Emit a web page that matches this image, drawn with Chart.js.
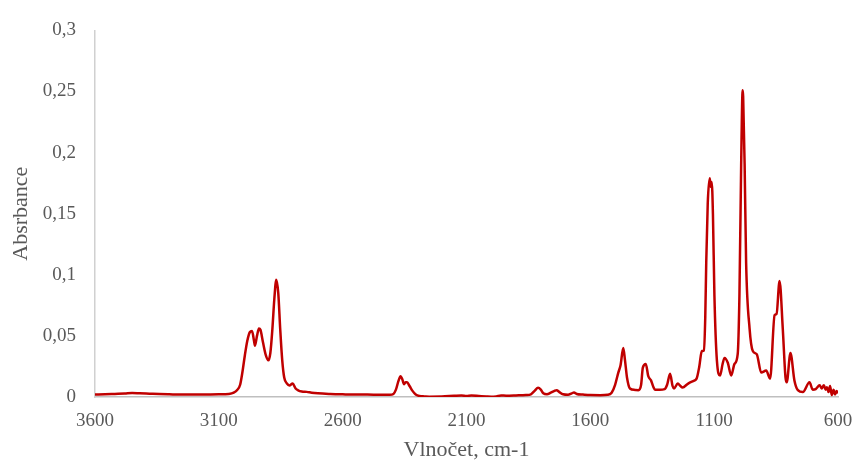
<!DOCTYPE html>
<html>
<head>
<meta charset="utf-8">
<script src="https://cdn.jsdelivr.net/npm/chart.js@4"></script>
<style>
  html, body { margin: 0; padding: 0; background: #ffffff; }
  #wrap { width: 853px; height: 461px; position: relative; }
</style>
</head>
<body>
<div id="wrap"><canvas id="c"></canvas></div>
<script>
const wavenumbers = [
  3600, 3560, 3520, 3480, 3450, 3420, 3380, 3340, 3300, 3250, 3200, 3150, 3100, 3060, 3040, 3025, 3014, 3005, 2995, 2985,
  2975, 2966, 2958, 2954, 2946, 2938, 2932, 2922, 2910, 2900, 2892, 2884, 2876, 2868, 2860, 2852, 2844, 2836, 2825, 2815,
  2802, 2790, 2780, 2765, 2745, 2725, 2700, 2650, 2600, 2550, 2500, 2450, 2410, 2395, 2385, 2375, 2366, 2360, 2352, 2346,
  2340, 2330, 2318, 2305, 2290, 2270, 2250, 2200, 2150, 2120, 2100, 2080, 2050, 2020, 2000, 1980, 1960, 1940, 1900, 1860,
  1840, 1825, 1811, 1800, 1790, 1775, 1760, 1745, 1736, 1725, 1710, 1690, 1675, 1666, 1655, 1630, 1600, 1560, 1530, 1514,
  1500, 1487, 1478, 1467, 1460, 1452, 1440, 1420, 1406, 1395, 1388, 1376, 1366, 1355, 1345, 1339, 1320, 1300, 1290, 1278,
  1268, 1262, 1247, 1236, 1228, 1205, 1185, 1171, 1160, 1150, 1141, 1136, 1132, 1126, 1118, 1114, 1110, 1105, 1099, 1089, 1076,
  1066, 1058, 1045, 1031, 1018, 1005, 998, 991, 985, 983, 977, 971, 957, 944, 928, 910, 890, 874, 856, 848, 836,
  823, 812, 807, 792, 776, 762, 742, 715, 702, 690, 674, 666, 657, 650, 645, 638, 632, 625, 618, 612,
  606, 600
];
const absorbance = [
  0.0020, 0.0022, 0.0025, 0.0028, 0.0032, 0.0030, 0.0027, 0.0024, 0.0022, 0.0020, 0.0020, 0.0021, 0.0022, 0.0025, 0.0035, 0.006, 0.010, 0.020, 0.034, 0.046,
  0.053, 0.054, 0.046, 0.042, 0.050, 0.056, 0.055, 0.045, 0.034, 0.030, 0.036, 0.055, 0.080, 0.096, 0.085, 0.055, 0.030, 0.016, 0.011, 0.0095,
  0.011, 0.007, 0.0055, 0.0045, 0.0042, 0.0035, 0.0030, 0.0025, 0.0022, 0.0020, 0.0020, 0.0018, 0.0018, 0.0025, 0.006, 0.013, 0.017, 0.015, 0.0105, 0.012,
  0.012, 0.009, 0.005, 0.002, 0.0008, 0.0005, 0.0003, 0.0004, 0.0010, 0.0013, 0.0009, 0.0012, 0.0008, 0.0004, 0.0002, 0.0005, 0.0012, 0.0011, 0.0013, 0.0016,
  0.0022, 0.0050, 0.0075, 0.0060, 0.0030, 0.0022, 0.0035, 0.0050, 0.0056, 0.0040, 0.0022, 0.0018, 0.0030, 0.0037, 0.0025, 0.0020, 0.0016, 0.0015, 0.0018, 0.0035,
  0.010, 0.020, 0.026, 0.040, 0.030, 0.016, 0.007, 0.0058, 0.0056, 0.010, 0.024, 0.027, 0.017, 0.0136, 0.008, 0.006, 0.0060, 0.0065, 0.010, 0.019,
  0.009, 0.007, 0.011, 0.009, 0.0078, 0.011, 0.013, 0.015, 0.025, 0.0376, 0.038, 0.065, 0.110, 0.158, 0.179, 0.172, 0.176, 0.150, 0.083, 0.030, 0.0176,
  0.027, 0.032, 0.028, 0.0176, 0.027, 0.035, 0.083, 0.190, 0.251, 0.246, 0.190, 0.110, 0.056, 0.0376, 0.035, 0.020, 0.0216, 0.015, 0.067, 0.068, 0.095,
  0.056, 0.016, 0.012, 0.036, 0.0136, 0.0056, 0.004, 0.012, 0.006, 0.0065, 0.0096, 0.007, 0.0096, 0.006, 0.008, 0.004, 0.009, 0.0016, 0.006, 0.002,
  0.005, 0.003
];
const yTickLabels = ['0', '0,05', '0,1', '0,15', '0,2', '0,25', '0,3'];
const xTitle = 'Vlnočet, cm-1';
const yTitle = 'Absrbance';

const points = wavenumbers.map((w, i) => ({ x: w, y: absorbance[i] }));
const textColor = '#595959';
const fontFamily = '"Liberation Serif", "Times New Roman", serif';

new Chart(document.getElementById('c'), {
  type: 'line',
  data: {
    datasets: [{
      data: points,
      borderColor: '#C00000',
      borderWidth: 2.5,
      pointRadius: 0,
      fill: false,
      cubicInterpolationMode: 'monotone'
    }]
  },
  options: {
    responsive: true,
    maintainAspectRatio: false,
    animation: false,
    layout: { padding: { top: 22, right: 0, left: 0, bottom: 0 } },
    plugins: { legend: { display: false }, tooltip: { enabled: false } },
    scales: {
      x: {
        type: 'linear',
        min: 600,
        max: 3600,
        reverse: true,
        grid: { drawOnChartArea: false, drawTicks: false },
        border: { display: true, color: '#BFBFBF', width: 1.5 },
        ticks: {
          stepSize: 500,
          padding: 13,
          color: textColor,
          font: { family: fontFamily, size: 19 },
          maxRotation: 0,
          callback: (v) => String(v)
        },
        title: {
          display: true,
          text: xTitle,
          color: textColor,
          font: { family: fontFamily, size: 22 },
          padding: { top: 4, bottom: -2 }
        },
        afterFit: s => { s.height = 64; s.paddingRight = 15; s.paddingLeft = 0; }
      },
      y: {
        min: 0,
        max: 0.3,
        grid: { drawOnChartArea: false, drawTicks: false },
        border: { display: true, color: '#D0D0D0', width: 1.5 },
        ticks: {
          stepSize: 0.05,
          padding: 19,
          color: textColor,
          font: { family: fontFamily, size: 19 },
          callback: (v) => yTickLabels[Math.round(v / 0.05)]
        },
        title: {
          display: true,
          text: yTitle,
          color: textColor,
          font: { family: fontFamily, size: 22 },
          padding: { top: 8, bottom: 0 }
        },
        afterFit: s => { s.width = 95; }
      }
    }
  }
});
</script>
</body>
</html>
